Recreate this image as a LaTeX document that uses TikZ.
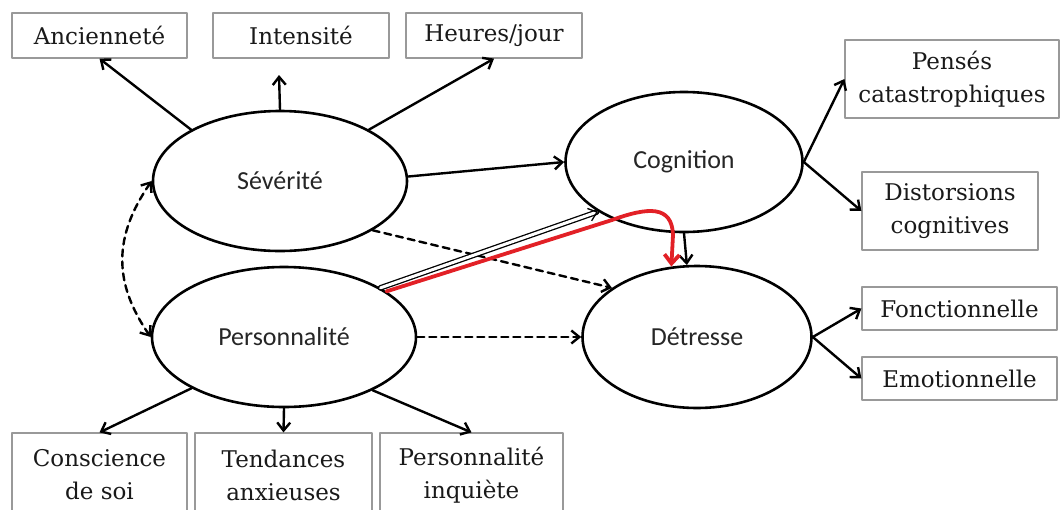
\documentclass[tikz,border=0pt]{standalone}
\usepackage{fontspec}
\setmainfont{DejaVu Serif}
\newfontfamily\ellfont{Carlito}
\usetikzlibrary{shapes.geometric,arrows.meta}
\definecolor{rouge}{RGB}{226,32,38}
\tikzset{
  boite/.style={draw=gray!80,line width=1.2pt,fill=white,align=center,inner sep=0pt,text=black!90,font=\fontsize{23}{33}\selectfont},
  bulle/.style={ellipse,draw,line width=2.6pt,inner sep=0pt,text=black!85,font=\ellfont\fontsize{26}{30}\selectfont},
}
\begin{document}
\begin{tikzpicture}[x=1pt,y=-1pt,>={Straight Barb[length=8pt,width=13pt]},line join=round,line cap=round,line width=2.4pt]
	\useasboundingbox (0,0) rectangle (1062,509);
	% les quatre facteurs
	\node[bulle,minimum width=254pt,minimum height=140pt] (sev) at (280,181) {Sévérité};
	\node[bulle,minimum width=264pt,minimum height=140pt] (pers) at (284,337) {Personnalité};
	\node[bulle,minimum width=237pt,minimum height=140pt] (cog) at (684,162) {Cognition};
	\node[bulle,minimum width=229pt,minimum height=142pt] (det) at (697,337) {Détresse};
	% les indicateurs
	\node[boite,minimum width=175pt,minimum height=45pt] (anc) at (99.5,35.5) {Ancienneté};
	\node[boite,minimum width=176pt,minimum height=45pt] (int) at (301,35.5) {Intensité};
	\node[boite,minimum width=176pt,minimum height=45pt] (heu) at (494,35.5) {Heures/jour};
	\node[boite,minimum width=214pt,minimum height=78pt] (pen) at (952,79) {Pensés\\catastrophiques};
	\node[boite,minimum width=176pt,minimum height=78pt] (dis) at (950,211) {Distorsions\\cognitives};
	\node[boite,minimum width=195pt,minimum height=43pt] (fon) at (959.5,308.5) {Fonctionnelle};
	\node[boite,minimum width=195pt,minimum height=43pt] (emo) at (959.5,378.5) {Emotionnelle};
	\node[boite,minimum width=175pt,minimum height=84pt] (con) at (99.5,475) {Conscience\\de soi};
	\node[boite,minimum width=177pt,minimum height=84pt] (ten) at (283.5,475) {Tendances\\anxieuses};
	\node[boite,minimum width=183pt,minimum height=84pt] (pin) at (471.5,475) {Personnalité\\inquiète};
	\coordinate (intTip) at (279,75);
	% fleches
	\draw[->] (sev.150) -- (anc.south);
	\draw[->] (sev.north) -- (intTip);
	\draw[->] (sev.30) -- (heu.south);
	\draw[->] (pers.209) -- (con.north);
	\draw[->] (pers.south) -- (ten.north);
	\draw[->] (pers.-31) -- (pin.north);
	\draw[->] (cog.east) -- (pen.west);
	\draw[->] (cog.east) -- (dis.west);
	\draw[->] (det.east) -- (fon.west);
	\draw[->] (det.east) -- (emo.west);
	\draw[->] (sev.2) -- (cog.west);
	\draw[->] (cog.south) -- (det.98);
	\draw[->,dash pattern=on 7pt off 5pt] (sev.-28) -- (det.150);
	\draw[->,dash pattern=on 7pt off 5pt] (pers.east) -- (det.west);
	\draw[<->,dash pattern=on 7pt off 5pt] (sev.west) .. controls +(-38,55) and +(-38,-55) .. (pers.west);
	\draw[->,double,double distance=3pt,line width=1.3pt] (pers.27) -- (cog.210);
	\draw[rouge,line width=3.8pt,-{Straight Barb[length=9pt,width=15pt]}] (pers.24) -- (612,220) .. controls (648,207) and (672,205) .. (673,235) -- (det.110);
\end{tikzpicture}
\end{document}
